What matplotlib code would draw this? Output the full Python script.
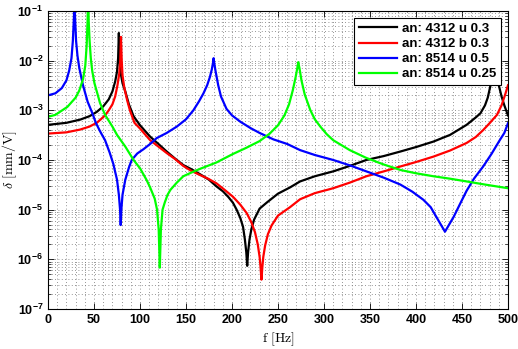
import matplotlib
matplotlib.use('Agg')
import matplotlib.pyplot as plt
from matplotlib.ticker import MultipleLocator, LogLocator, NullFormatter

plt.rcParams['font.family'] = ['Liberation Sans', 'DejaVu Sans']
plt.rcParams['font.weight'] = 'bold'
plt.rcParams['mathtext.fontset'] = 'custom'
plt.rcParams['mathtext.rm'] = 'Liberation Sans:bold'
plt.rcParams['mathtext.it'] = 'Liberation Sans:bold'
plt.rcParams['mathtext.bf'] = 'Liberation Sans:bold'
plt.rcParams['mathtext.default'] = 'rm'

# an: 4312 u 0.3
black_f = [0, 20, 35, 45, 53, 60, 66, 70, 73, 75, 76.2, 77, 77.8, 79, 81, 84, 88, 93, 100,
           111, 120, 129, 138, 147, 156, 165, 175, 183, 190, 196, 201, 205, 209, 212, 214,
           215.5, 216.5, 217.5, 219, 221, 224, 230, 238, 250, 263, 274, 290, 310, 328, 346,
           365, 383, 400, 419, 437, 455, 465, 470, 475, 478, 481, 483, 484.5, 485.5, 486.5,
           488, 490, 493, 496, 500]
black_d = [5.1e-4, 5.6e-4, 6.5e-4, 7.6e-4, 9.3e-4, 1.2e-3, 1.66e-3, 2.4e-3, 3.8e-3, 6.0e-3,
           1.12e-2, 3.6e-2, 1.12e-2, 5.6e-3, 3.5e-3, 2.4e-3, 1.3e-3, 7.6e-4, 5.0e-4,
           2.95e-4, 2.1e-4, 1.48e-4, 1.07e-4, 7.9e-5, 6.5e-5, 5.2e-5, 4.0e-5, 2.95e-5,
           2.35e-5, 1.8e-5, 1.38e-5, 1.0e-5, 6.8e-6, 4.5e-6, 2.5e-6,
           1.4e-6, 7.4e-7, 1.4e-6, 2.5e-6, 4.0e-6, 6.3e-6, 1.05e-5, 1.4e-5, 2.1e-5,
           2.8e-5, 3.7e-5, 4.7e-5, 5.9e-5, 7.6e-5, 1.0e-4,
           1.2e-4, 1.48e-4, 1.82e-4, 2.35e-4, 3.2e-4, 5.1e-4, 7.2e-4, 8.7e-4, 1.26e-3,
           1.8e-3, 3.2e-3, 5.0e-3, 1.0e-2, 2.5e-2, 1.0e-2,
           5.0e-3, 3.2e-3, 1.9e-3, 1.26e-3, 7.9e-4]

# an: 4312 b 0.3
red_f = [0, 20, 35, 45, 53, 57, 62, 66, 70, 73, 75.5, 77.5, 78.5, 79.3, 80.1, 81, 83, 86,
         89, 94, 100, 111, 120, 129, 138, 147, 156, 165, 174, 183, 192, 201, 209, 216, 221,
         225, 228, 230, 231, 232, 233, 234, 236, 239, 243, 250, 263, 274, 290, 310, 328,
         346, 365, 383, 400, 419, 437, 455, 465, 473, 480, 488, 493, 497, 500]
red_d = [3.4e-4, 3.6e-4, 4.1e-4, 4.7e-4, 5.6e-4, 6.5e-4, 7.9e-4, 1.0e-3, 1.32e-3, 1.9e-3,
         3.2e-3, 5.6e-3, 1.0e-2, 3.0e-2, 1.0e-2, 5.0e-3, 2.8e-3, 1.6e-3,
         1.0e-3, 5.6e-4, 4.3e-4, 2.5e-4, 1.86e-4, 1.38e-4, 1.05e-4, 7.6e-5, 6.0e-5,
         5.0e-5, 4.2e-5, 3.4e-5, 2.5e-5, 1.82e-5, 1.26e-5, 8.5e-6, 5.6e-6,
         3.5e-6, 2.0e-6, 1.12e-6, 7.1e-7, 3.9e-7, 7.1e-7, 1.12e-6, 1.9e-6, 3.2e-6,
         4.8e-6, 7.6e-6, 1.12e-5, 1.62e-5, 2.15e-5, 2.7e-5, 3.5e-5,
         4.7e-5, 5.9e-5, 7.4e-5, 9.1e-5, 1.17e-4, 1.55e-4, 2.2e-4, 2.9e-4, 4.0e-4,
         5.5e-4, 8.1e-4, 1.26e-3, 2.1e-3, 3.2e-3]

# an: 8514 u 0.5
blue_f = [0, 8, 15, 20, 23, 25.5, 27, 28.2, 28.7, 29.3, 30.5, 32, 34, 38, 43, 48, 52, 56.5,
          62, 67, 71, 75, 77, 78.3, 79, 79.7, 81, 84, 88, 91, 97, 104, 111, 118, 129, 140,
          150, 158, 164, 169, 173, 176, 178, 179.3, 180, 180.7, 182, 185, 188, 194, 200,
          209, 220, 230, 245, 260, 274, 290, 310, 328, 346, 365, 383, 396, 408, 416, 422,
          427, 431.5, 436, 441, 448, 455, 463, 473, 482, 491, 496, 500]
blue_d = [2.0e-3, 2.2e-3, 2.8e-3, 4.0e-3, 6.3e-3, 1.12e-2, 2.5e-2, 7.9e-2, 0.25, 7.9e-2,
          2.5e-2, 1.26e-2, 7.1e-3, 3.2e-3, 1.5e-3, 8.9e-4, 5.6e-4, 3.8e-4,
          2.5e-4, 1.41e-4, 8.3e-5, 4.0e-5, 2.0e-5, 1.0e-5, 4.9e-6, 1.0e-5, 2.0e-5, 4.0e-5,
          7.1e-5, 1.0e-4, 1.35e-4, 1.66e-4, 2.1e-4, 2.75e-4, 3.5e-4, 4.7e-4,
          6.6e-4, 1.0e-3, 1.5e-3, 2.2e-3, 3.2e-3, 4.7e-3, 6.6e-3, 8.9e-3, 1.12e-2, 8.9e-3,
          6.3e-3, 3.2e-3, 1.9e-3, 1.07e-3, 7.9e-4,
          5.9e-4, 4.4e-4, 3.5e-4, 2.6e-4, 2.1e-4, 1.58e-4, 1.26e-4, 1.0e-4, 7.8e-5,
          5.9e-5, 4.4e-5, 3.2e-5, 2.3e-5, 1.58e-5, 1.12e-5, 7.2e-6,
          5.0e-6, 3.6e-6, 5.0e-6, 7.2e-6, 1.32e-5, 2.4e-5, 4.2e-5, 7.4e-5, 1.32e-4,
          2.5e-4, 3.5e-4, 5.5e-4]

# an: 8514 u 0.25
green_f = [0, 8, 21, 30, 34, 38, 40.5, 42, 43, 43.6, 44.2, 45.2, 46.5, 48, 50.5, 53, 56.5,
           62, 70, 75, 84, 93, 100, 107, 111, 116, 118.5, 120.3, 121.5, 122.7, 124.5, 127,
           130, 133, 140, 147, 156, 165, 183, 201, 215, 230, 241, 250, 257, 262, 266, 269,
           271, 272, 273.3, 275.5, 279, 285, 290, 296, 303, 310, 328, 346, 365, 383, 400,
           419, 437, 455, 475, 500]
green_d = [7.4e-4, 8.1e-4, 1.17e-3, 1.8e-3, 2.5e-3, 4.2e-3, 7.9e-3, 2.0e-2, 6.3e-2, 0.25,
           6.3e-2, 2.5e-2, 1.12e-2, 6.3e-3, 3.5e-3, 2.4e-3, 1.41e-3,
           8.1e-4, 4.7e-4, 3.2e-4, 1.86e-4, 1.0e-4, 6.8e-5, 4.0e-5, 2.8e-5, 1.66e-5,
           1.0e-5, 4.0e-6, 6.8e-7, 4.0e-6, 1.0e-5, 1.41e-5,
           2.0e-5, 2.5e-5, 3.5e-5, 4.7e-5, 5.6e-5, 6.6e-5, 8.9e-5, 1.32e-4, 1.74e-4, 2.4e-4,
           3.4e-4, 5.0e-4, 7.9e-4, 1.32e-3, 2.5e-3, 4.5e-3,
           7.1e-3, 9.3e-3, 7.1e-3, 4.0e-3, 2.1e-3, 1.02e-3, 6.6e-4, 4.7e-4, 3.3e-4, 2.5e-4,
           1.58e-4, 1.1e-4, 8.1e-5, 6.3e-5, 5.4e-5,
           4.7e-5, 4.2e-5, 3.7e-5, 3.2e-5, 2.7e-5]

labels = ['an: 4312 u 0.3', 'an: 4312 b 0.3', 'an: 8514 u 0.5', 'an: 8514 u 0.25']

fig = plt.figure(figsize=(5.18, 3.49), dpi=100)
ax = fig.add_axes([0.0927, 0.1146, 0.888, 0.854])

ax.semilogy(black_f, black_d, color='k', lw=1.6, label=labels[0])
ax.semilogy(red_f, red_d, color=(1, 0, 0), lw=1.6, label=labels[1])
ax.semilogy(blue_f, blue_d, color=(0, 0, 1), lw=1.6, label=labels[2])
ax.semilogy(green_f, green_d, color=(0, 1, 0), lw=1.6, label=labels[3])

ax.set_xlim(0, 500)
ax.set_ylim(1e-7, 1e-1)
ax.xaxis.set_major_locator(MultipleLocator(50))
ax.xaxis.set_minor_locator(MultipleLocator(10))
ax.yaxis.set_major_locator(LogLocator(base=10, numticks=10))
ax.yaxis.set_minor_locator(LogLocator(base=10, subs=range(2, 10), numticks=10))
ax.yaxis.set_minor_formatter(NullFormatter())

ax.grid(True, which='both', linestyle=(0, (1, 3)), color='0.45', lw=0.6)
ax.tick_params(which='major', direction='in', length=4, top=True, right=True, labelsize=9, width=0.6)
ax.tick_params(axis='y', which='minor', direction='in', length=2, right=True, width=0.5)
ax.tick_params(axis='x', which='minor', length=0)
for s in ax.spines.values():
    s.set_linewidth(0.8)

ax.set_xlabel(r'$f\ [\mathrm{Hz}]$', fontsize=10, math_fontfamily='cm')
ax.set_ylabel(r'$\delta\ [\mathrm{mm/V}]$', fontsize=10, math_fontfamily='cm')
ax.xaxis.set_label_coords(0.5, -0.072)
ax.yaxis.set_label_coords(-0.062, 0.5)

leg = ax.legend(loc='upper right', fontsize=9.5, handlelength=2.9, handletextpad=0.35,
                labelspacing=0.22, borderpad=0.35, fancybox=False, framealpha=1,
                borderaxespad=0.55)
leg.get_frame().set_edgecolor('k')
leg.get_frame().set_linewidth(0.8)

fig.savefig('out.png', dpi=100)
